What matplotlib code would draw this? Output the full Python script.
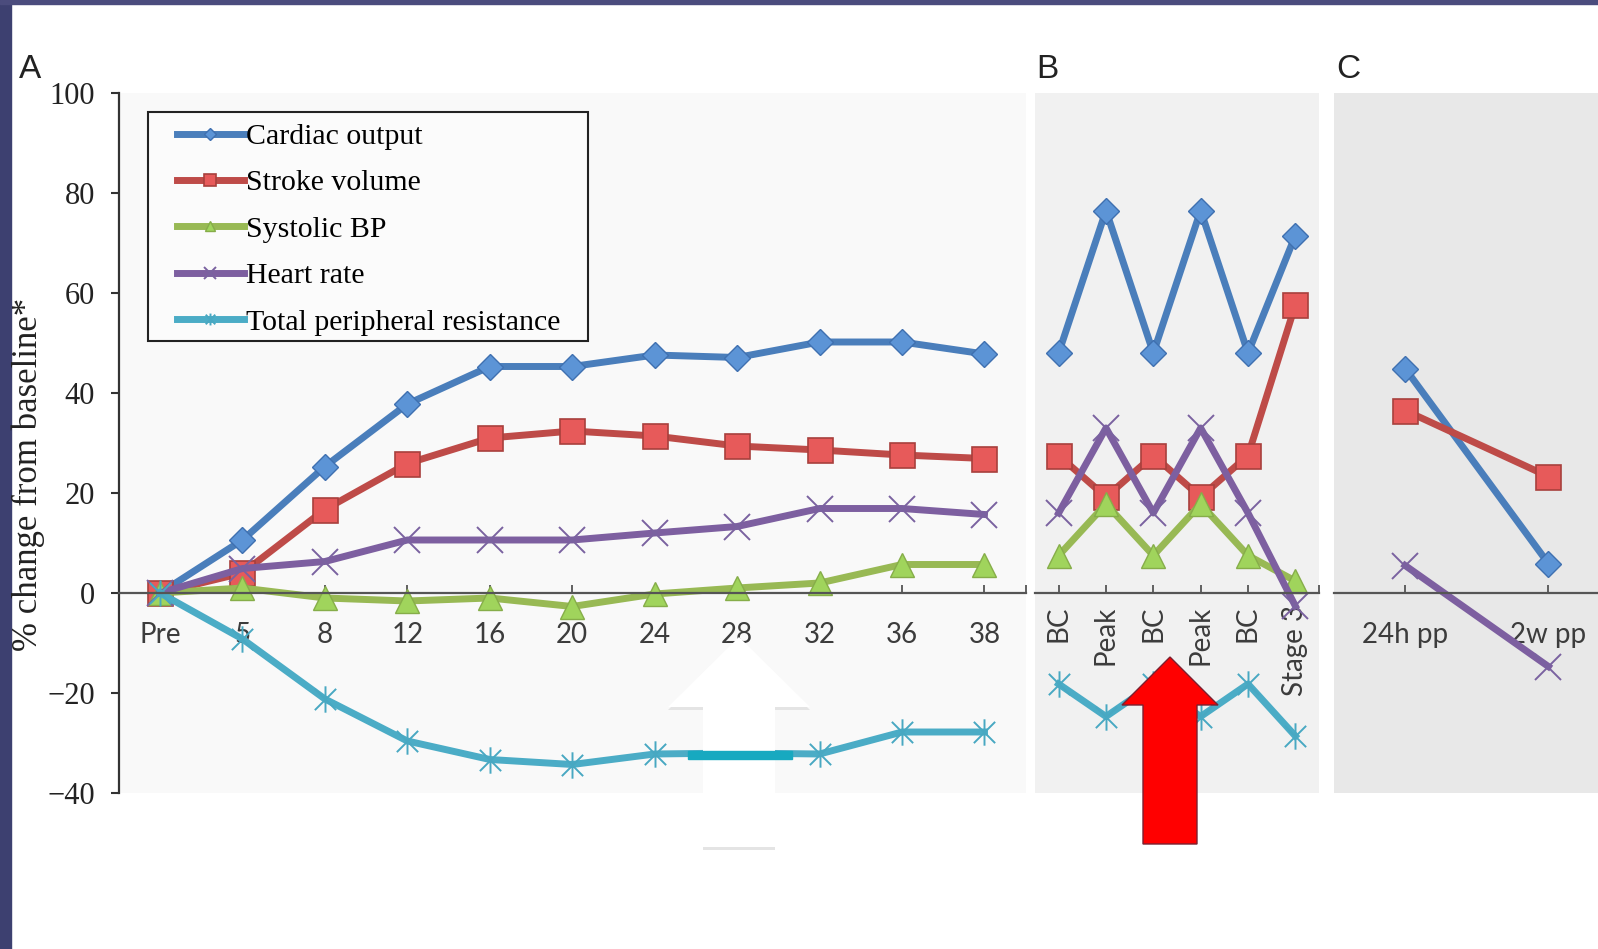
import matplotlib
matplotlib.use("Agg")
import matplotlib.pyplot as plt
from matplotlib.path import Path
from matplotlib.patches import Polygon, Rectangle

# categories
weeks = ["Pre", "5", "8", "12", "16", "20", "24", "28", "32", "36", "38"]
labor = ["BC", "Peak", "BC", "Peak", "BC", "Stage 3"]
postpartum = ["24h pp", "2w pp"]

# panel A: pregnancy (% change from baseline)
co_a = [0, 10.6, 25.3, 37.8, 45.3, 45.3, 47.6, 47.1, 50.2, 50.2, 47.8]
sv_a = [0, 4.0, 16.7, 25.9, 31.0, 32.4, 31.4, 29.4, 28.6, 27.6, 26.9]
sbp_a = [0, 1.0, -1.0, -1.6, -1.0, -2.7, -0.2, 1.0, 2.0, 5.7, 5.7]
hr_a = [0, 4.9, 6.3, 10.6, 10.6, 10.6, 12.0, 13.3, 16.9, 16.9, 15.7]
tpr_a = [0, -9.2, -21.2, -29.6, -33.3, -34.3, -32.2, -32.0, -32.2, -27.8, -27.8]

# panel B: labour
co_b = [48, 76.5, 48, 76.5, 48, 71.5]
sv_b = [27.5, 19.2, 27.5, 19.2, 27.5, 57.6]
sbp_b = [7.5, 17.8, 7.5, 17.8, 7.5, 2.4]
hr_b = [16, 33, 16, 33, 16, -2.6]
tpr_b = [-18.2, -24.7, -18.2, -24.7, -18.2, -28.6]

# panel C: postpartum
co_c = [44.9, 5.9]
sv_c = [36.5, 23.3]
hr_c = [5.5, -14.7]

names = ["Cardiac output", "Stroke volume", "Systolic BP", "Heart rate",
         "Total peripheral resistance"]

star = Path([(-0.5, -0.5), (0.5, 0.5), (-0.5, 0.5), (0.5, -0.5), (0, -0.62), (0, 0.62)],
            [Path.MOVETO, Path.LINETO] * 3)

styles = {
    "Cardiac output": dict(color="#4a7ebb", marker="D", ms=13, mfc="#5c94d6", mec="#3f70b0", mew=1),
    "Stroke volume": dict(color="#be4b48", marker="s", ms=18, mfc="#e75a5a", mec="#a8403d", mew=1.2),
    "Systolic BP": dict(color="#98b954", marker="^", ms=17, mfc="#a0d45c", mec="#86ad49", mew=1),
    "Heart rate": dict(color="#7d5fa0", marker="x", ms=19, mfc="none", mec="#7a62a0", mew=1.4),
    "Total peripheral resistance": dict(color="#4bacc6", marker=star, ms=19, mfc="none", mec="#48a8c2", mew=1.4),
}

W, H = 1598, 949
fig = plt.figure(figsize=(W / 100, H / 100), dpi=100)


def box(x0, x1, y_top, y_bot):
    return [x0 / W, 1 - y_bot / H, (x1 - x0) / W, (y_bot - y_top) / H]


def px(pts, dx=0, dy=0):
    return [((x + dx) / W, 1 - (y + dy) / H) for x, y in pts]


# slide border
fig.add_artist(Rectangle((0, 0), 11 / W, 1, transform=fig.transFigure, color="#3d4070", zorder=1))
fig.add_artist(Rectangle((0, 1 - 4 / H), 1, 4 / H, transform=fig.transFigure, color="#4b4c7d", zorder=1))

ax_a = fig.add_axes(box(118.8, 1025.7, 93, 793), facecolor="#f9f9f9")
ax_b = fig.add_axes(box(1035, 1319, 93, 793), facecolor="#f1f1f1")
ax_c = fig.add_axes(box(1333.5, 1620, 93, 793), facecolor="#e8e8e8")

for nm, ys in zip(names, [co_a, sv_a, sbp_a, hr_a, tpr_a]):
    ax_a.plot(range(len(weeks)), ys, lw=5, label=nm, **styles[nm])
for nm, ys in zip(names, [co_b, sv_b, sbp_b, hr_b, tpr_b]):
    ax_b.plot(range(len(labor)), ys, lw=5, **styles[nm])
for nm, ys in zip(["Cardiac output", "Stroke volume", "Heart rate"], [co_c, sv_c, hr_c]):
    ax_c.plot(range(len(postpartum)), ys, lw=5, **styles[nm])

cat_font = dict(family="Lato", size=20, color="#3c3c3c")

for ax, cats, rot, pad in [(ax_a, weeks, 0, 21), (ax_b, labor, 90, 9), (ax_c, postpartum, 0, 21)]:
    ax.set_xlim(-0.5, len(cats) - 0.5)
    ax.set_ylim(-40, 100)
    for s in ["top", "right"]:
        ax.spines[s].set_visible(False)
    ax.spines["bottom"].set_position(("data", 0))
    ax.spines["bottom"].set_color("#555555")
    ax.spines["bottom"].set_linewidth(1.6)
    ax.set_xticks(range(len(cats)))
    ax.set_xticklabels(cats, rotation=rot, **cat_font)
    ax.set_xticks([len(cats) - 0.5], minor=True)
    ax.tick_params(axis="x", which="both", direction="in", length=6, width=1.3,
                   color="#555555", pad=pad)

for ax in (ax_b, ax_c):
    ax.spines["left"].set_visible(False)
    ax.set_yticks([])

ax_a.spines["left"].set_color("#333333")
ax_a.spines["left"].set_linewidth(1.6)
yt = list(range(-40, 101, 20))
ax_a.set_yticks(yt)
ax_a.set_yticklabels([str(v).replace("-", "\u2212") for v in yt],
                     family="Liberation Serif", size=22, color="#222222")
ax_a.tick_params(axis="y", direction="out", length=6, width=1.5, color="#333333", pad=11)

# legend frame drawn separately so padding matches the original box
ax_a.add_artist(Rectangle((148 / W, 1 - 341 / H), 440 / W, 229 / H, transform=fig.transFigure,
                          facecolor="#fbfbfb", edgecolor="#222222", lw=1.5, zorder=4.5))
leg = ax_a.legend(loc="upper left", bbox_to_anchor=(0.064, 0.957), borderaxespad=0,
                  prop=dict(family="Liberation Serif", size=21.5), frameon=False,
                  handlelength=2.25, handletextpad=0.05, markerscale=0.45,
                  labelspacing=0.655, borderpad=0)

fig.text(28.5 / W, 1 - 474 / H, "% change from baseline*", rotation=90, ha="center",
         va="center", family="Liberation Serif", size=25, color="#222222")

for letter, x in [("A", 30), ("B", 1047), ("C", 1348)]:
    fig.text(x / W, 1 - 69 / H, letter, ha="center", va="center",
             family="Liberation Sans", size=24, color="#222222")

# arrows overlaid on the slide
white_arrow = [(739, 637), (810, 707), (775, 707), (775, 847), (703, 847), (703, 707), (668, 707)]
fig.add_artist(Polygon(px(white_arrow, 0, 3), closed=True, transform=fig.transFigure,
                       facecolor="#e4e4e4", edgecolor="none", zorder=4))
fig.add_artist(Polygon(px(white_arrow), closed=True, transform=fig.transFigure,
                       facecolor="white", edgecolor="none", zorder=5))
fig.add_artist(Rectangle((688 / W, 1 - 759 / H), 104 / W, 8 / H, transform=fig.transFigure,
                         color="#17a9c0", zorder=6))
red_arrow = [(1170, 657), (1218, 705), (1197, 705), (1197, 844), (1143, 844), (1143, 705), (1122, 705)]
fig.add_artist(Polygon(px(red_arrow), closed=True, transform=fig.transFigure,
                       facecolor="#ff0000", edgecolor="#7a2030", lw=1, zorder=5))

fig.savefig("out.png", dpi=100)
